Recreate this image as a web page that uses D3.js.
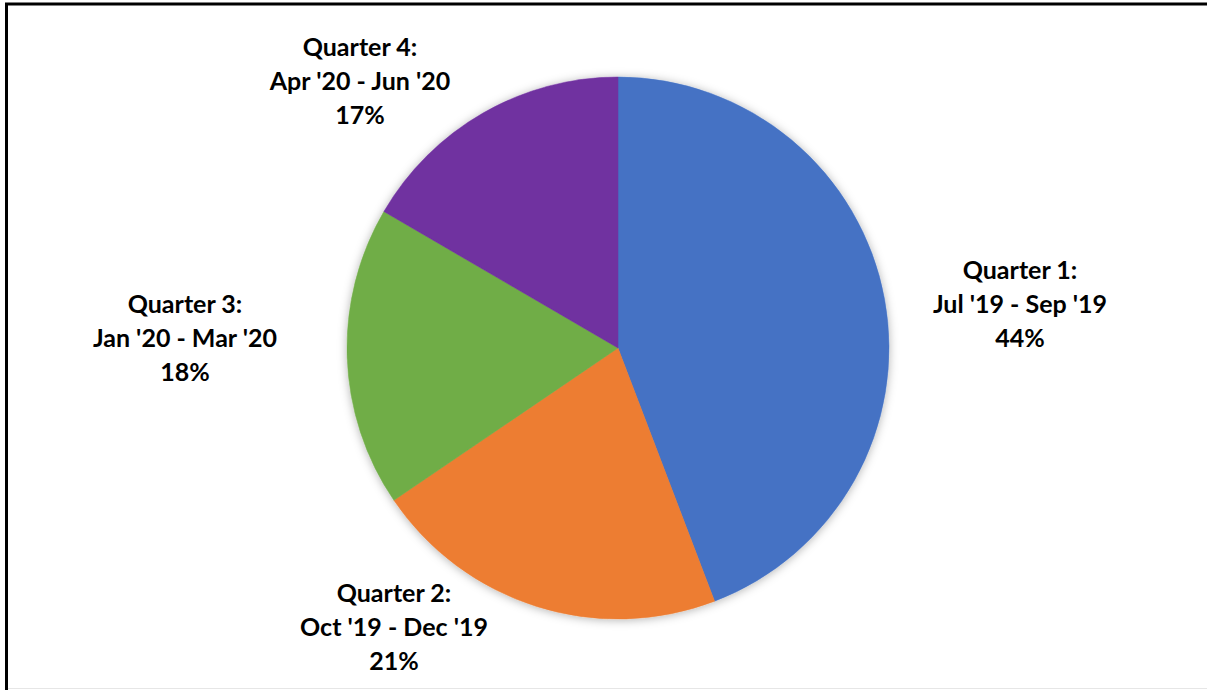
<!DOCTYPE html>
<html>
<head>
<meta charset="utf-8">
<script src="https://cdn.jsdelivr.net/npm/d3@7"></script>
<style>
  html, body { margin: 0; padding: 0; background: #fff; }
  svg { display: block; }
  .lbl { font-family: Lato, "Open Sans", sans-serif; font-weight: bold; font-size: 25px; fill: #000; }
</style>
</head>
<body>
<div id="chart"></div>
<script>
    // data
    var quarters = ["Quarter 1:", "Quarter 2:", "Quarter 3:", "Quarter 4:"];
    var periods = ["Jul '19 - Sep '19", "Oct '19 - Dec '19", "Jan '20 - Mar '20", "Apr '20 - Jun '20"];
    var shares = [44.2, 21.3, 17.9, 16.6];
    var shareLabels = ["44%", "21%", "18%", "17%"];
    var colors = ["#4472C4", "#ED7D31", "#70AD47", "#7030A0"];

    // layout
    var width = 1207, height = 690;
    var cx = 618, cy = 348, radius = 271;
    // label anchors (baseline of first line), Excel "best fit" placement
    var labelPos = [[1020, 279], [394, 602], [185, 313], [360, 56]];
    var lineGap = 34;

    var svg = d3.select("#chart")
        .append("svg")
        .attr("width", width)
        .attr("height", height);

    // soft shadow under the pie
    var defs = svg.append("defs");
    defs.append("filter")
        .attr("id", "shadow")
        .attr("x", "-20%").attr("y", "-20%")
        .attr("width", "140%").attr("height", "140%")
        .append("feDropShadow")
        .attr("dx", 0).attr("dy", 1)
        .attr("stdDeviation", 5)
        .attr("flood-color", "#000")
        .attr("flood-opacity", 0.3);

    // frame (cropped on right and bottom)
    svg.append("rect")
        .attr("x", 6.5).attr("y", 4)
        .attr("width", width + 20).attr("height", height + 20)
        .attr("fill", "none")
        .attr("stroke", "#000")
        .attr("stroke-width", 3);
    svg.append("line")
        .attr("x1", 8).attr("x2", width)
        .attr("y1", 688.5).attr("y2", 688.5)
        .attr("stroke", "#e6e6e6")
        .attr("stroke-width", 1);

    var pie = d3.pie().sort(null).value(function(d) { return d; });
    var arc = d3.arc().innerRadius(0).outerRadius(radius);

    var g = svg.append("g")
        .attr("transform", "translate(" + cx + "," + cy + ")")
        .attr("filter", "url(#shadow)");

    g.selectAll("path")
        .data(pie(shares))
        .enter()
        .append("path")
        .attr("d", arc)
        .attr("fill", function(d, i) { return colors[i]; })
        .attr("stroke", function(d, i) { return colors[i]; })
        .attr("stroke-width", 0.5);

    // data labels
    var labels = svg.selectAll("text.lbl")
        .data(quarters)
        .enter()
        .append("text")
        .attr("class", "lbl")
        .attr("text-anchor", "middle")
        .attr("x", function(d, i) { return labelPos[i][0]; })
        .attr("y", function(d, i) { return labelPos[i][1]; });

    labels.each(function(d, i) {
        var t = d3.select(this);
        [quarters[i], periods[i], shareLabels[i]].forEach(function(s, k) {
            t.append("tspan")
                .attr("x", labelPos[i][0])
                .attr("dy", k === 0 ? 0 : lineGap)
                .text(s);
        });
    });
</script>
</body>
</html>
